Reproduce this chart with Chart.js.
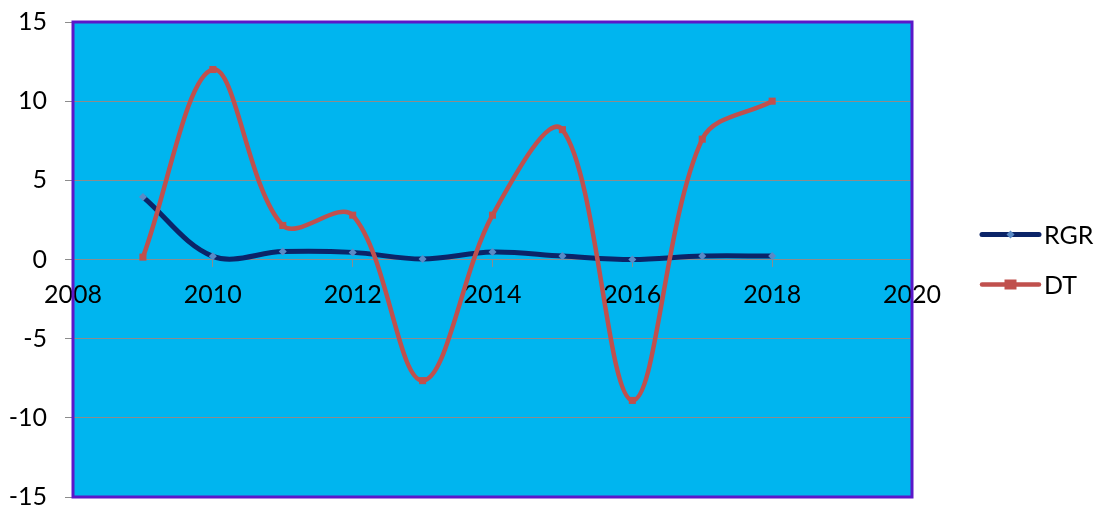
<!DOCTYPE html>
<html>
<head>
<meta charset="utf-8">
<script src="https://cdn.jsdelivr.net/npm/chart.js@4/dist/chart.umd.min.js"></script>
<style>
  html, body { margin: 0; padding: 0; background: #ffffff; }
  #wrap { width: 1095px; height: 508px; }
</style>
</head>
<body>
<div id="wrap"><canvas id="c" width="1095" height="508"></canvas></div>
<script>
// ---- data ----
const years = [2009, 2010, 2011, 2012, 2013, 2014, 2015, 2016, 2017, 2018];
const rgrValues = [3.95, 0.2, 0.5, 0.45, 0.03, 0.47, 0.22, 0.0, 0.22, 0.22];
const dtValues  = [0.15, 12.0, 2.15, 2.8, -7.65, 2.8, 8.2, -8.9, 7.6, 10.0];
const xTickValues = [2008, 2010, 2012, 2014, 2016, 2018, 2020];
const yTickValues = [-15, -10, -5, 0, 5, 10, 15];
const seriesNames = ['RGR', 'DT'];

const FONT = 'Lato, "Open Sans", sans-serif';
const FONT_SIZE = 25;

const plotStyle = {
  id: 'plotStyle',
  beforeDraw(chart) {
    const a = chart.chartArea, ctx = chart.ctx;
    ctx.save();
    ctx.fillStyle = '#00B5EF';
    ctx.fillRect(a.left, a.top, a.right - a.left, a.bottom - a.top);
    ctx.restore();
  },
  afterDraw(chart) {
    const a = chart.chartArea, ctx = chart.ctx;
    ctx.save();
    ctx.strokeStyle = '#5B17C9';
    ctx.lineWidth = 3;
    ctx.strokeRect(a.left, a.top, a.right - a.left, a.bottom - a.top);
    // legend
    const cy = (a.top + a.bottom) / 2;
    const ys = [cy - 25, cy + 25];
    const x0 = a.right + 70, x1 = a.right + 127;
    chart.data.datasets.forEach((ds, i) => {
      const y = ys[i];
      ctx.strokeStyle = ds.borderColor;
      ctx.lineWidth = ds.borderWidth;
      ctx.lineCap = 'round';
      ctx.beginPath(); ctx.moveTo(x0, y); ctx.lineTo(x1, y); ctx.stroke();
      const mx = (x0 + x1) / 2;
      ctx.fillStyle = ds.pointBackgroundColor;
      ctx.beginPath();
      if (ds.pointStyle === 'rectRot') {
        const r = 4;
        ctx.moveTo(mx, y - r); ctx.lineTo(mx + r, y); ctx.lineTo(mx, y + r); ctx.lineTo(mx - r, y); ctx.closePath();
      } else {
        ctx.rect(mx - 6, y - 5, 12, 10);
      }
      ctx.fill();
      ctx.fillStyle = '#000000';
      ctx.font = FONT_SIZE + 'px ' + FONT;
      ctx.textAlign = 'left';
      ctx.textBaseline = 'middle';
      ctx.fillText(ds.label, x1 + 5, y + 1);
    });
    ctx.restore();
  }
};

new Chart(document.getElementById('c'), {
  type: 'line',
  data: {
    datasets: [
      {
        label: seriesNames[0],
        data: years.map((x, i) => ({ x, y: rgrValues[i] })),
        borderColor: '#0B2468',
        borderWidth: 5,
        pointStyle: 'rectRot',
        pointRadius: 4,
        pointBackgroundColor: '#5A8AC6',
        pointBorderWidth: 0,
        tension: 0.35,
        order: 1
      },
      {
        label: seriesNames[1],
        data: years.map((x, i) => ({ x, y: dtValues[i] })),
        borderColor: '#C0504D',
        borderWidth: 4.5,
        pointStyle: 'rect',
        pointRadius: 5,
        pointBackgroundColor: '#C0504D',
        pointBorderWidth: 0,
        tension: 0.35,
        order: 0
      }
    ]
  },
  options: {
    responsive: false,
    animation: false,
    layout: { padding: { left: 0, top: 22, right: 183, bottom: 11 } },
    plugins: { legend: { display: false }, tooltip: { enabled: false } },
    scales: {
      x: {
        type: 'linear',
        position: { y: 0 },
        min: 2008, max: 2020,
        afterBuildTicks: s => { s.ticks = xTickValues.map(v => ({ value: v })); },
        afterFit: s => { s.paddingLeft = 0; s.paddingRight = 0; },
        ticks: {
          color: '#000000',
          font: { family: FONT, size: FONT_SIZE, lineHeight: 1 },
          padding: 16,
          maxRotation: 0,
          autoSkip: false,
          callback: v => String(v)
        },
        grid: { drawOnChartArea: false, drawTicks: true, tickLength: 7, color: '#8c8c8c' },
        border: { display: true, color: '#8c8c8c', width: 1 }
      },
      y: {
        type: 'linear',
        min: -15, max: 15,
        afterBuildTicks: s => { s.ticks = yTickValues.map(v => ({ value: v })); },
        afterFit: s => { s.width = 73; s.paddingTop = 0; s.paddingBottom = 0; },
        ticks: {
          color: '#000000',
          font: { family: FONT, size: FONT_SIZE, lineHeight: 1 },
          padding: 18,
          callback: v => String(v)
        },
        grid: { color: '#8c8c8c', lineWidth: 1, tickLength: 8 },
        border: { display: false }
      }
    }
  },
  plugins: [plotStyle]
});
</script>
</body>
</html>
